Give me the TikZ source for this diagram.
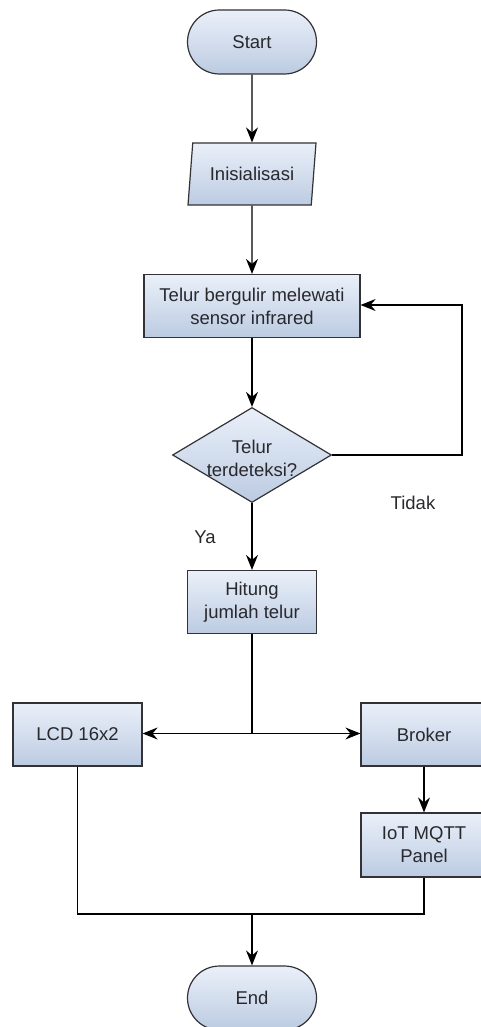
\documentclass[tikz,border=0pt]{standalone}
\usepackage{fontspec}
\setmainfont{Liberation Sans}
\usetikzlibrary{shapes.geometric,shapes.misc,arrows.meta}
\definecolor{boxL}{RGB}{234,240,249}
\definecolor{boxR}{RGB}{188,203,226}
\definecolor{edge}{RGB}{50,50,55}
\definecolor{txt}{RGB}{40,40,45}
\tikzset{
  base/.style={draw=edge, line width=1.2pt, shading angle=-60, shade, top color=boxL, bottom color=boxR, text=txt,
    font=\fontsize{18.5}{23}\selectfont, align=center, inner sep=0pt},
  term/.style={base, rounded rectangle, minimum width=129pt, minimum height=64pt},
  proc/.style={base, rectangle, minimum height=63pt},
  io/.style={base, trapezium, trapezium left angle=76, trapezium right angle=104,
    trapezium stretches=true, minimum width=129pt, minimum height=62pt},
  dec/.style={base, diamond, minimum width=159pt, minimum height=95pt},
  conn/.style={draw=black, line width=1.4pt, -{Stealth[length=15pt,width=12pt,inset=5pt]}},
  line/.style={draw=black, line width=1.4pt},
  lbl/.style={text=txt, font=\fontsize{18.5}{23}\selectfont, inner sep=0pt}
}
\begin{document}
\begin{tikzpicture}[x=1pt,y=-1pt]
\useasboundingbox (0,0) rectangle (480,1027);
\node[term] (start) at (252,42) {Start};
\node[io] (init) at (252,174) {Inisialisasi};
\node[proc, minimum width=216pt] (proc) at (252,306) {Telur bergulir melewati\\sensor infrared};
\node[dec] (dec) at (252,455) {};
\node[lbl, align=center] (dectext) at (252,458) {Telur\\terdeteksi?};
\node[proc, minimum width=129pt] (hit) at (252,602) {Hitung\\jumlah telur};
\node[proc, minimum width=129pt] (lcd) at (77.5,734.5) {LCD 16x2};
\node[proc, minimum width=126pt] (brk) at (424,734.5) {Broker};
\node[proc, minimum width=126pt, minimum height=64pt] (iot) at (424,845) {IoT MQTT\\Panel};
\node[term] (end) at (252,998) {End};
\node[lbl] (ya) at (205,537) {Ya};
\node[lbl] (tidak) at (413,503) {Tidak};
\coordinate (loopR) at (462,455);
\coordinate (loopT) at (462,305);
\coordinate (split) at (252,733.5);
\coordinate (lcdB) at (77.5,914);
\coordinate (iotB) at (424,914);
\coordinate (merge) at (252,914);

\draw[conn] (start) -- (init);
\draw[conn] (init) -- (proc);
\draw[conn] (proc) -- (dec);
\draw[conn] (dec.east) -- (loopR) -- (loopT) -- (proc.east |- loopT);
\draw[conn] (dec) -- (hit);
\draw[line] (hit.south) -- (split);
\draw[conn] (split) -- (lcd.east |- split);
\draw[conn] (split) -- (brk.west |- split);
\draw[conn] (brk) -- (iot);
\draw[line] (lcd.south) -- (lcdB) -- (merge);
\draw[line] (iot.south) -- (iotB) -- (merge);
\draw[conn] (merge) -- (end);
\end{tikzpicture}
\end{document}
